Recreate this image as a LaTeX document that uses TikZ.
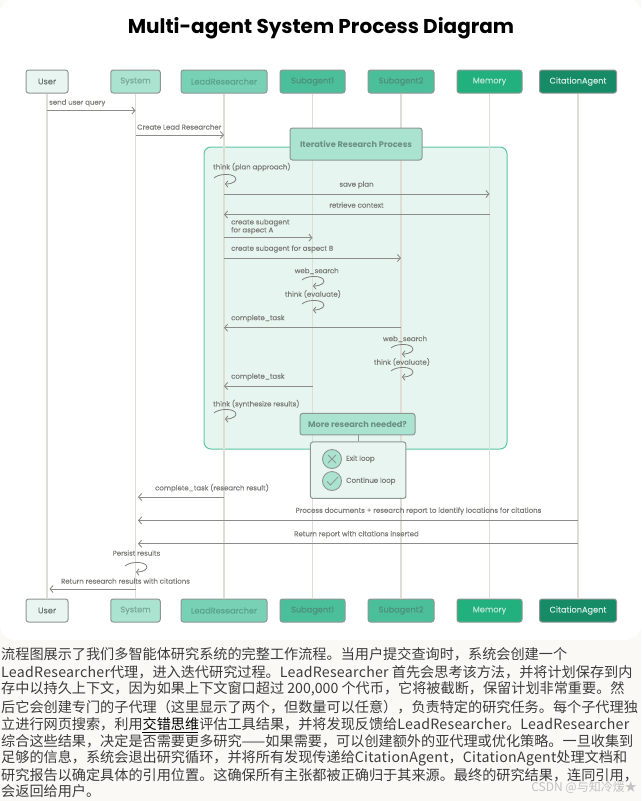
\documentclass[tikz,border=0pt]{standalone}
\usepackage{fontspec}
\usetikzlibrary{arrows.meta}
\setmainfont{Poppins}
\newfontfamily\cjk{Noto Sans CJK SC}
\newfontfamily\medfont[FakeBold=0.25]{Poppins}
\definecolor{pagebg}{HTML}{FBF9F5}
\definecolor{lifeline}{HTML}{DEDDD6}
\definecolor{msgline}{HTML}{8C8C88}
\definecolor{boxline}{HTML}{8F9693}
\definecolor{lbl}{HTML}{7C7C78}
\definecolor{framefill}{HTML}{E7F5F0}
\definecolor{framedraw}{HTML}{5CC7A3}
\definecolor{cA}{HTML}{E8F5F0}
\definecolor{cB}{HTML}{AAE3D0}
\definecolor{cC}{HTML}{78D1B4}
\definecolor{cD}{HTML}{4BBF99}
\definecolor{cE}{HTML}{22B07E}
\definecolor{cF}{HTML}{178A66}
\definecolor{tA}{HTML}{6B7774}
\definecolor{tB}{HTML}{7AA898}
\definecolor{tC}{HTML}{5AA38C}
\definecolor{tD}{HTML}{4F8F7A}
\definecolor{tE}{HTML}{BCE8D8}
\definecolor{tF}{HTML}{D2EEE4}
\definecolor{tG}{HTML}{6B8F82}
\definecolor{bodytxt}{HTML}{3C3C3C}
\newcommand{\lat}[1]{{\addfontfeature{LetterSpace=2}#1}}
\tikzset{
  x=1pt,y=-1pt,
  head/.style={draw=boxline,line width=1pt,rounded corners=2.5pt,inner sep=0pt,font=\medfont\fontsize{8.2}{9}\selectfont},
  life/.style={draw=lifeline,line width=1.2pt},
  msg/.style={draw=msgline,line width=1pt,-{Straight Barb[length=3pt,width=7pt,line width=.9pt]}},
  lab/.style={text=lbl,inner sep=0pt,font=\medfont\fontsize{7}{8}\selectfont},
  loopline/.style={draw=msgline!90!black,line width=.8pt,-{Straight Barb[length=2.5pt,width=6.5pt,line width=.8pt]}},
  bodyline/.style={anchor=west,inner sep=0pt,text=bodytxt,font=\cjk\fontsize{14.15}{16}\selectfont},
}
\newcommand{\selfloop}[2]{\draw[loopline] (#1,#2) .. controls (#1+4,#2-4) and (#1+17,#2-5) .. (#1+21,#2-1) .. controls (#1+24,#2+2) and (#1+20,#2+6) .. (#1+11,#2+6);}
\newcommand{\headbox}[7]{%
  \node[head,fill=#6,text=#7,minimum width=#4,minimum height=23pt] (#1) at (#2,#3) {#5};
}
\begin{document}
\begin{tikzpicture}
\useasboundingbox (0,0) rectangle (641,801);
\fill[pagebg] (0,0) rectangle (641,801);
\fill[white,rounded corners=15pt] (0,-2) rectangle (641,640);
\node[inner sep=0pt,font=\fontsize{20}{24}\selectfont\bfseries,text=black] (title) at (321,28) {Multi-agent System Process Diagram};
% frame
\draw[fill=framefill,draw=framedraw,line width=1pt,rounded corners=7pt] (204,147) rectangle (507,449);
% heads
\headbox{hu}{47}{81.5}{42pt}{User}{cA}{tA}
\headbox{hs}{135.5}{81.5}{49.5pt}{System}{cB}{tB}
\headbox{hl}{224}{81.5}{86pt}{LeadResearcher}{cC}{tC}
\headbox{ha}{312.5}{81.5}{65pt}{Subagent1}{cD}{tD}
\headbox{hb}{401}{81.5}{66pt}{Subagent2}{cD}{tD}
\headbox{hm}{489.5}{81.5}{65pt}{Memory}{cE}{tE}
\headbox{hc}{578}{81.5}{77pt}{CitationAgent}{cF}{tF}
% feet
\headbox{fu}{47}{610.5}{42pt}{User}{cA}{tA}
\headbox{fs}{135.5}{610.5}{49.5pt}{System}{cB}{tB}
\headbox{fl}{224}{610.5}{86pt}{LeadResearcher}{cC}{tC}
\headbox{fa}{312.5}{610.5}{65pt}{Subagent1}{cD}{tD}
\headbox{fb}{401}{610.5}{66pt}{Subagent2}{cD}{tD}
\headbox{fm}{489.5}{610.5}{65pt}{Memory}{cE}{tE}
\headbox{fc}{578}{610.5}{77pt}{CitationAgent}{cF}{tF}
% lifelines
\foreach \a/\b in {hu/fu,hs/fs,hl/fl,ha/fa,hb/fb,hm/fm,hc/fc}{\draw[life] (\a) -- (\b);}
% messages
\foreach \n/\y in {m1/110.5,m2/135,m3/194,m4/214.5,m5/237.7,m6/258,m7/327.7,m8/386,m9/497,m10/520.5,m11/543.7,m12/589}{\coordinate (\n) at (0,\y);}
\coordinate (st) at (138,0);
\coordinate (ut) at (49.5,0);
\draw[msg] (hu |- m1) -- (hs |- m1);
\draw[msg] (hs |- m2) -- (hl |- m2);
\draw[msg] (hl |- m3) -- (hm |- m3);
\draw[msg] (hm |- m4) -- (hl |- m4);
\draw[msg] (hl |- m5) -- (ha |- m5);
\draw[msg] (hl |- m6) -- (hb |- m6);
\draw[msg] (hb |- m7) -- (hl |- m7);
\draw[msg] (ha |- m8) -- (hl |- m8);
\draw[msg] (hl |- m9) -- (st |- m9);
\draw[msg] (hc |- m10) -- (st |- m10);
\draw[msg] (hc |- m11) -- (st |- m11);
\draw[msg] (hs |- m12) -- (ut |- m12);
% self loops
\selfloop{214}{178}
\selfloop{302}{280}
\selfloop{302}{304}
\selfloop{391}{348}
\selfloop{391}{371}
\selfloop{214}{413}
\selfloop{125}{566}
% labels
\node[lab,anchor=west] (l1) at (49,103) {send user query};
\node[lab,anchor=west] (l2) at (137,127) {Create Lead Researcher};
\node[lab,anchor=west] (l3) at (213,167) {think (plan approach)};
\node[lab] (l4) at (356.5,185) {save plan};
\node[lab] (l5) at (356.5,205) {retrieve context};
\node[lab,anchor=west,align=left] (l6) at (231,226.7) {create subagent\\for aspect A};
\node[lab,anchor=west] (l7) at (231,249) {create subagent for aspect B};
\node[lab] (l8) at (316.7,271) {web\_search};
\node[lab] (l9) at (313,294) {think (evaluate)};
\node[lab,anchor=west] (l10) at (231,318.5) {complete\_task};
\node[lab] (l11) at (405,339) {web\_search};
\node[lab] (l12) at (402,362) {think (evaluate)};
\node[lab,anchor=west] (l13) at (231,377) {complete\_task};
\node[lab,anchor=west] (l14) at (213,404) {think (synthesize results)};
\node[lab] (l15) at (212,488) {complete\_task (research result)};
\node[lab] (l16) at (418.5,511) {Process documents + research report to identify locations for citations};
\node[lab] (l17) at (356.5,534.5) {Return report with citations inserted};
\node[lab] (l18) at (136.5,553) {Persist results};
\node[lab] (l19) at (125.5,581) {Return research results with citations};
% iterative box
\node[head,fill=cB,text=tG,minimum width=132pt,minimum height=32pt,font=\fontsize{8.2}{10}\selectfont\bfseries] (iter) at (356,144) {Iterative Research Process};
% decision
\node[head,fill=cB,text=tG,minimum width=115pt,minimum height=21.5pt,font=\fontsize{8.2}{10}\selectfont\bfseries] (more) at (357.5,424.2) {More research needed?};
\node[head,fill=cA,minimum width=95.5pt,minimum height=56.5pt] (alt) at (358.2,470.2) {};
\draw[draw=boxline,line width=1pt] (more.south -| alt.north) -- (alt.north);
\node[draw=boxline,line width=.9pt,fill=cB,circle,minimum size=19pt,inner sep=0pt] (cx) at (332,459) {};
\node[draw=boxline,line width=.9pt,fill=cB,circle,minimum size=19pt,inner sep=0pt] (cc) at (332,481) {};
\draw[draw=boxline,line width=.8pt] (328,455) -- (336,463) (336,455) -- (328,463);
\draw[draw=boxline,line width=.8pt] (327,481.5) -- (330.5,485) -- (338,477);
\node[lab,anchor=west] (ex) at (346,459) {Exit loop};
\node[lab,anchor=west] (co) at (346,481) {Continue loop};
% body text
\node[bodyline] (b1) at (1,654) {流程图展示了我们多智能体研究系统的完整工作流程。当用户提交查询时，系统会创建一个};
\node[bodyline] (b2) at (1,672) {\lat{LeadResearcher}代理，进入迭代研究过程。\lat{LeadResearcher} 首先会思考该方法，并将计划保存到内};
\node[bodyline] (b3) at (1,689) {存中以持久上下文，因为如果上下文窗口超过 200,000 个代币，它将被截断，保留计划非常重要。然};
\node[bodyline] (b4) at (1,707) {后它会创建专门的子代理（这里显示了两个，但数量可以任意），负责特定的研究任务。每个子代理独};
\node[bodyline] (b5) at (1,724) {立进行网页搜索，利用\textcolor{black}{交错思维}评估工具结果，并将发现反馈给\lat{LeadResearcher}。\lat{LeadResearcher}};
\node[bodyline] (b6) at (1,741) {综合这些结果，决定是否需要更多研究——如果需要，可以创建额外的亚代理或优化策略。一旦收集到};
\node[bodyline] (b7) at (1,758) {足够的信息，系统会退出研究循环，并将所有发现传递给\lat{CitationAgent}，\lat{CitationAgent}处理文档和};
\node[bodyline] (b8) at (1,775) {研究报告以确定具体的引用位置。这确保所有主张都被正确归于其来源。最终的研究结果，连同引用，};
\node[bodyline] (b9) at (1,791) {会返回给用户。};
\draw[black,line width=.8pt] (142,732.5) -- (198,732.5);
\node[anchor=east,inner sep=0pt,text=black!24,font=\cjk\fontsize{12}{14}\selectfont] (wm) at (637,787) {CSDN @与知冷煖★};
\end{tikzpicture}
\end{document}
